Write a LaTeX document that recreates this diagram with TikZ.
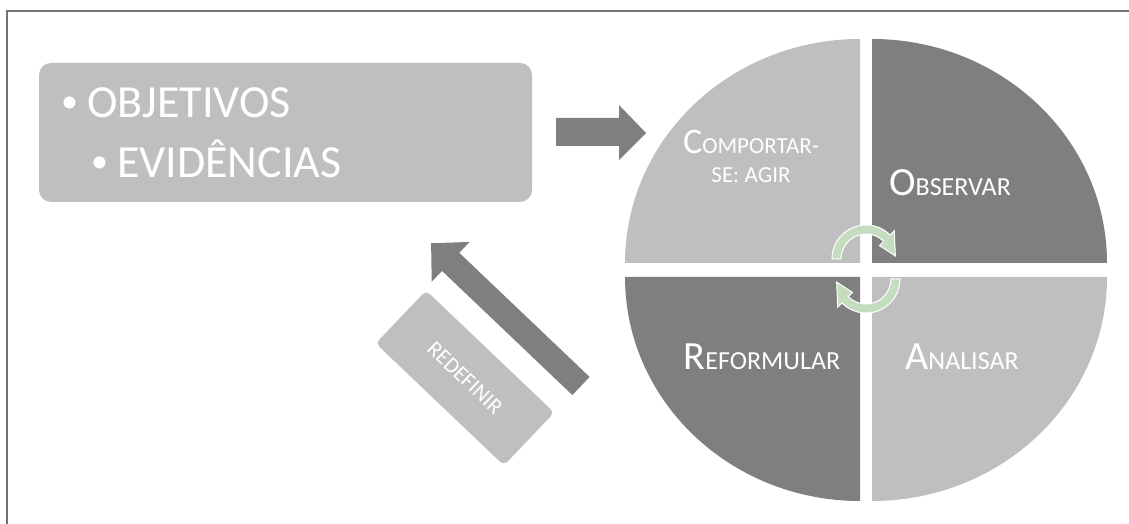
\documentclass[tikz,border=0pt]{standalone}
\usepackage{fontspec}
\setmainfont{Carlito}
\usepackage{tikz}
\usetikzlibrary{calc}
\definecolor{lightq}{HTML}{BFBFBF}
\definecolor{darkq}{HTML}{7F7F7F}
\definecolor{cyclegreen}{HTML}{C5DDBF}
\newcommand{\capword}[2]{{\fontsize{40}{30}\selectfont #1}#2}
\newcommand{\dotmark}{\raisebox{5pt}{\fontsize{34}{34}\selectfont •}\kern9pt}

\begin{document}
\begin{tikzpicture}[x=1pt,y=1pt,
  box node/.style={fill=lightq,rounded corners=12pt,inner sep=0pt},
  goal node/.style={text=white,anchor=base west,inner sep=0pt,font=\fontsize{46}{48}\selectfont},
  label node/.style={text=white,anchor=base,align=center,inner sep=0pt,font=\fontsize{26}{30}\selectfont},
  big arrow/.style={fill=darkq},
  turn arrow/.style={fill=cyclegreen,draw=white,line width=1pt}]

\useasboundingbox (0,0) rectangle (1129,524);
\draw[black!55,line width=1.5pt] (7,-10) rectangle (1140,513);

% goals box
\node[box node,minimum width=493pt,minimum height=139pt] (goals) at (285.5,391.5) {};
\node[goal node] (obj) at (61,406) {\dotmark OBJETIVOS};
\node[goal node] (evid) at (91,346) {\dotmark EVIDÊNCIAS};

% arrow to the cycle
\fill[big arrow] (556,378) -- (619,378) -- (619,364) -- (646,391) -- (619,419)
  -- (619,406) -- (556,406) -- cycle;

% back arrow and its box
\begin{scope}[shift={(581,138)},rotate=136.4]
  \fill[big arrow] (0,-12.5) -- (180,-12.5) -- (180,-27.5) -- (207,0) -- (180,27.5)
    -- (180,12.5) -- (0,12.5) -- cycle;
\end{scope}
\node[box node,rounded corners=5pt,minimum width=177pt,minimum height=73pt,rotate=-43.6,
  text=white,font=\fontsize{22}{24}\selectfont] (redef) at (465,146) {REDEFINIR};

% the four quarters
\foreach \cx/\cy/\a/\col in {860/261/90/lightq,872/261/0/darkq,860/247/180/darkq,872/247/270/lightq}{
  \fill[\col] (\cx,\cy) -- ++(\a:235 and 224)
    arc[start angle=\a,delta angle=90,x radius=235pt,y radius=224pt] -- cycle;
}

\node[label node,font=\fontsize{23}{29}\selectfont] (act) at (751,341)
  {{\fontsize{36}{29}\selectfont C}OMPORTAR-\\SE: AGIR};
\node[label node] (obs) at (950,328) {\capword{O}{BSERVAR}};
\node[label node] (ref) at (762,154) {\capword{R}{EFORMULAR}};
\node[label node] (ana) at (962,154) {\capword{A}{NALISAR}};

% turning arrows
\foreach \cy/\r in {265/0,245/180}{
  \begin{scope}[shift={(866,\cy)},rotate=\r]
    \filldraw[turn arrow] (180:34) arc[start angle=180,end angle=45,radius=34pt]
      -- (45:40) -- (6:29.5) -- (45:19) -- (45:25)
      arc[start angle=45,end angle=180,radius=25pt] -- cycle;
  \end{scope}
}
\end{tikzpicture}
\end{document}
